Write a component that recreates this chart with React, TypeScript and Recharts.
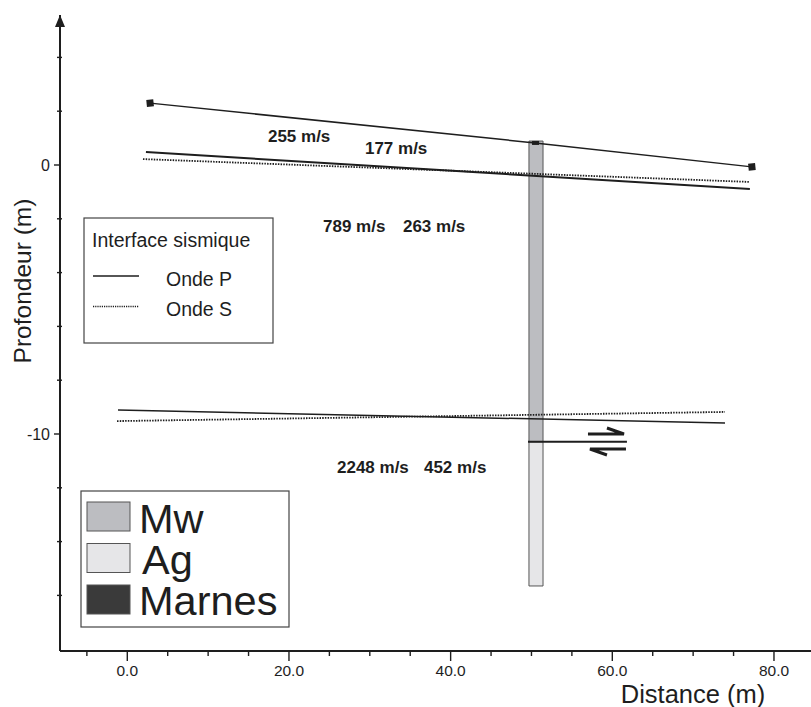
import { ComposedChart, Line, XAxis, YAxis, ReferenceArea, ReferenceDot } from 'recharts'

const FONT = '"Liberation Sans", Arial, Helvetica, sans-serif'
const INK = '#1e1e1e'

// interfaces: distance (m) / depth (m)
const topography = [
  { x: 2.82, y: 2.3 },
  { x: 50.44, y: 0.82 },
  { x: 77.27, y: -0.07 },
]
const ondeP1 = [
  { x: 2.31, y: 0.48 },
  { x: 77.02, y: -0.89 },
]
const ondeS1 = [
  { x: 1.94, y: 0.22 },
  { x: 77.02, y: -0.63 },
]
const ondeP2 = [
  { x: -1.15, y: -9.11 },
  { x: 73.94, y: -9.59 },
]
const ondeS2 = [
  { x: -1.27, y: -9.52 },
  { x: 73.94, y: -9.18 },
]
const faultLevel = [
  { x: 49.57, y: -10.29 },
  { x: 61.81, y: -10.29 },
]
const faultMark = { x: 59.34, y: -10.26 }

// forage
const boreholeX = [49.69, 51.43]
const boreholeLayers = [
  { name: 'Mw', top: 0.89, bottom: -10.29, fill: '#bcbdc1' },
  { name: 'Ag', top: -10.29, bottom: -15.65, fill: '#e6e6e8' },
]

const velocities = [
  { x: 17.4, y: 0.86, text: '255 m/s' },
  { x: 29.4, y: 0.41, text: '177 m/s' },
  { x: 24.21, y: -2.49, text: '789 m/s' },
  { x: 34.1, y: -2.49, text: '263 m/s' },
  { x: 25.94, y: -11.45, text: '2248 m/s' },
  { x: 36.7, y: -11.45, text: '452 m/s' },
]

const xTicks = [-5, 0, 5, 10, 15, 20, 25, 30, 35, 40, 45, 50, 55, 60, 65, 70, 75, 80]
const xLabelTicks = [0, 20, 40, 60, 80]
const yTicks = [-16, -14, -12, -10, -8, -6, -4, -2, 0, 2, 4]
const yLabelTicks = [0, -10]

const xDomain = [-8.325, 84.58]
const yDomain = [-18.067, 5.576]

const legendLayers = [
  { name: 'Mw', fill: '#bcbdc1' },
  { name: 'Ag', fill: '#e6e6e8' },
  { name: 'Marnes', fill: '#3a3a3a' },
]

const XTick = (props: any) => {
  const { x, y, payload } = props
  const v = payload.value
  const major = xLabelTicks.includes(v)
  return (
    <g>
      <line x1={x} x2={x} y1={y} y2={y + (major ? 10 : 5)} stroke={INK} strokeWidth={1.4} />
      {major && (
        <text x={x} y={y + 25} textAnchor="middle" fontSize={15.5} fill={INK} fontFamily={FONT}>
          {v.toFixed(1)}
        </text>
      )}
    </g>
  )
}

const YTick = (props: any) => {
  const { x, y, payload } = props
  const v = payload.value
  const labeled = yLabelTicks.includes(v)
  return (
    <g>
      <line x1={labeled ? x - 6 : x - 3} x2={labeled ? x : x + 2} y1={y} y2={y} stroke={INK} strokeWidth={1.4} />
      {labeled && (
        <text x={x - 10} y={y + 6} textAnchor="end" fontSize={16} fill={INK} fontFamily={FONT}>
          {v}
        </text>
      )}
    </g>
  )
}

const TopoDot = (props: any) => {
  const { cx, cy, index } = props
  if (index === 1) return <rect key={index} x={cx - 3} y={cy - 2} width={7} height={4} fill={INK} />
  return <rect key={index} x={cx - 3.5} y={cy - 3.5} width={7} height={7} fill={INK} transform={`rotate(-6 ${cx} ${cy})`} />
}

const AxisArrow = (props: any) => {
  const { cx, cy } = props
  return <path d={`M${cx} ${cy} L${cx - 5} ${cy + 12} L${cx + 5} ${cy + 12} Z`} fill={INK} />
}

const FaultSymbol = (props: any) => {
  const { cx, cy } = props
  return (
    <g stroke={INK} strokeWidth={3} fill="none">
      <path d={`M${cx - 19} ${cy - 7} L${cx + 17} ${cy - 7} L${cx} ${cy - 13}`} />
      <path d={`M${cx + 19} ${cy + 8} L${cx - 17} ${cy + 8} L${cx} ${cy + 14}`} />
    </g>
  )
}

const velocityLabel = (text: string) => (props: any) => (
  <text x={props.cx} y={props.cy} fontSize={17} fontWeight="bold" fill={INK} fontFamily={FONT}>
    {text}
  </text>
)

export default function App() {
  return (
    <div style={{ position: 'absolute', left: 0, top: 0, width: 811, height: 707, background: '#fff' }}>
      <ComposedChart width={811} height={707} margin={{ top: 15, right: 0, bottom: 0, left: 0 }}>
        <XAxis
          dataKey="x"
          type="number"
          domain={xDomain}
          allowDataOverflow
          ticks={xTicks}
          interval={0}
          tick={<XTick />}
          tickSize={0}
          tickMargin={0}
          tickLine={false}
          height={56}
          axisLine={{ stroke: INK, strokeWidth: 2 }}
        />
        <YAxis
          dataKey="y"
          type="number"
          domain={yDomain}
          allowDataOverflow
          ticks={yTicks}
          interval={0}
          tick={<YTick />}
          tickSize={0}
          tickMargin={0}
          tickLine={false}
          width={60}
          axisLine={{ stroke: INK, strokeWidth: 2 }}
        />
        {boreholeLayers.map((l) => (
          <ReferenceArea
            key={l.name}
            x1={boreholeX[0]}
            x2={boreholeX[1]}
            y1={l.bottom}
            y2={l.top}
            fill={l.fill}
            fillOpacity={1}
            stroke="#555"
            strokeWidth={1}
          />
        ))}
        <Line data={topography} dataKey="y" type="linear" stroke={INK} strokeWidth={1.5} dot={<TopoDot />} isAnimationActive={false} />
        <Line data={ondeP1} dataKey="y" type="linear" stroke={INK} strokeWidth={2} dot={false} isAnimationActive={false} />
        <Line data={ondeS1} dataKey="y" type="linear" stroke={INK} strokeWidth={1.8} strokeDasharray="1.5 1.2" dot={false} isAnimationActive={false} />
        <Line data={ondeP2} dataKey="y" type="linear" stroke={INK} strokeWidth={1.5} dot={false} isAnimationActive={false} />
        <Line data={ondeS2} dataKey="y" type="linear" stroke={INK} strokeWidth={1.8} strokeDasharray="1.5 1.2" dot={false} isAnimationActive={false} />
        <Line data={faultLevel} dataKey="y" type="linear" stroke={INK} strokeWidth={2} dot={false} isAnimationActive={false} />
        <ReferenceDot x={faultMark.x} y={faultMark.y} r={0} shape={FaultSymbol} ifOverflow="visible" />
        {velocities.map((v) => (
          <ReferenceDot key={v.text} x={v.x} y={v.y} r={0} shape={velocityLabel(v.text)} ifOverflow="visible" />
        ))}
        <ReferenceDot x={xDomain[0]} y={yDomain[1]} r={0} shape={AxisArrow} ifOverflow="visible" />
      </ComposedChart>
      <svg width={811} height={707} style={{ position: 'absolute', left: 0, top: 0, pointerEvents: 'none' }} fontFamily={FONT}>
        <text x={31} y={281} transform="rotate(-90 31 281)" textAnchor="middle" fontSize={24.5} fill={INK}>
          Profondeur (m)
        </text>
        <text x={693} y={703} textAnchor="middle" fontSize={25.5} fill={INK}>
          Distance (m)
        </text>
        <rect x={84} y={218} width={189} height={125} fill="#fff" stroke="#444" strokeWidth={1.2} />
        <text x={92} y={247} fontSize={19.5} fill={INK}>Interface sismique</text>
        <line x1={93} x2={139} y1={276} y2={276} stroke={INK} strokeWidth={1.5} />
        <text x={166} y={286} fontSize={19.5} fill={INK}>Onde P</text>
        <line x1={93} x2={139} y1={306.5} y2={306.5} stroke={INK} strokeWidth={1.3} strokeDasharray="1.2 1" />
        <text x={166} y={316} fontSize={19.5} fill={INK}>Onde S</text>
        <rect x={81} y={491} width={208} height={136} fill="#fff" stroke="#444" strokeWidth={1.2} />
        {legendLayers.map((l, i) => (
          <g key={l.name}>
            <rect x={87} y={502 + i * 41.5} width={43} height={29} fill={l.fill} stroke="#555" strokeWidth={1} />
            <text x={i === 1 ? 142 : 139} y={533 + i * 41} fontSize={41.5} fill={INK}>
              {l.name}
            </text>
          </g>
        ))}
      </svg>
    </div>
  )
}
